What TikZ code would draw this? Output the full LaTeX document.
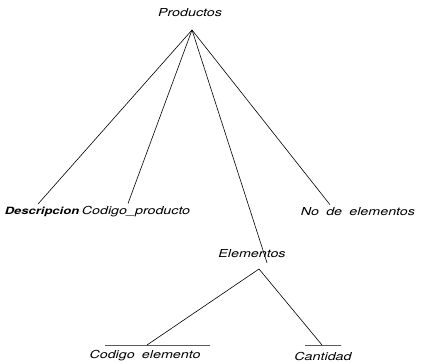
\documentclass[tikz,border=0pt]{standalone}
\usepackage{fontspec}
\newfontfamily\arbolfont[FakeStretch=1.3,WordSpace=1.8]{TeX Gyre Heros}
\tikzset{
  campo/.style = {font=\arbolfont\itshape\fontsize{11}{13}\selectfont,
                  inner sep=1pt},
  campo fuerte/.style = {campo, font=\arbolfont\bfseries\itshape\fontsize{10}{12}\selectfont},
  rama/.style = {draw, line width=0.6pt},
  barra/.style = {draw, line width=0.6pt, inner sep=0, minimum height=0pt},
}
\begin{document}
\begin{tikzpicture}[x=1pt,y=-1pt]
\useasboundingbox (0,0) rectangle (425,363);
\node[campo] (prod) at (190,13) {Productos};
\coordinate (pv) at (192,30);
\node[campo fuerte] (desc) at (42,212) {Descripcion};
\node[campo] (cod) at (136,212) {Codigo\_producto};
\node[campo] (nde) at (358,212) {No de elementos};
\node[campo] (elem) at (252,254) {Elementos};
\coordinate (ev) at (259,269);
\node[barra, minimum width=105pt] (ceb) at (157.5,345) {};
\node[barra, minimum width=36pt] (cab) at (323,345) {};
\node[campo] (ce) at (145,356) {Codigo elemento};
\node[campo] (cant) at (323,356) {Cantidad};
\path[rama] (pv) edge ([xshift=-4pt,yshift=2pt]desc.north)
            (pv) edge ([xshift=-8pt,yshift=2pt]cod.north)
            (pv) edge ([xshift=15pt,yshift=-14pt]elem.north)
            (pv) edge ([xshift=-28pt,yshift=2pt]nde.north);
\path[rama] (ev) edge ([xshift=-10.5pt]ceb.center)
            (ev) edge ([xshift=-1pt]cab.center);
\end{tikzpicture}
\end{document}
